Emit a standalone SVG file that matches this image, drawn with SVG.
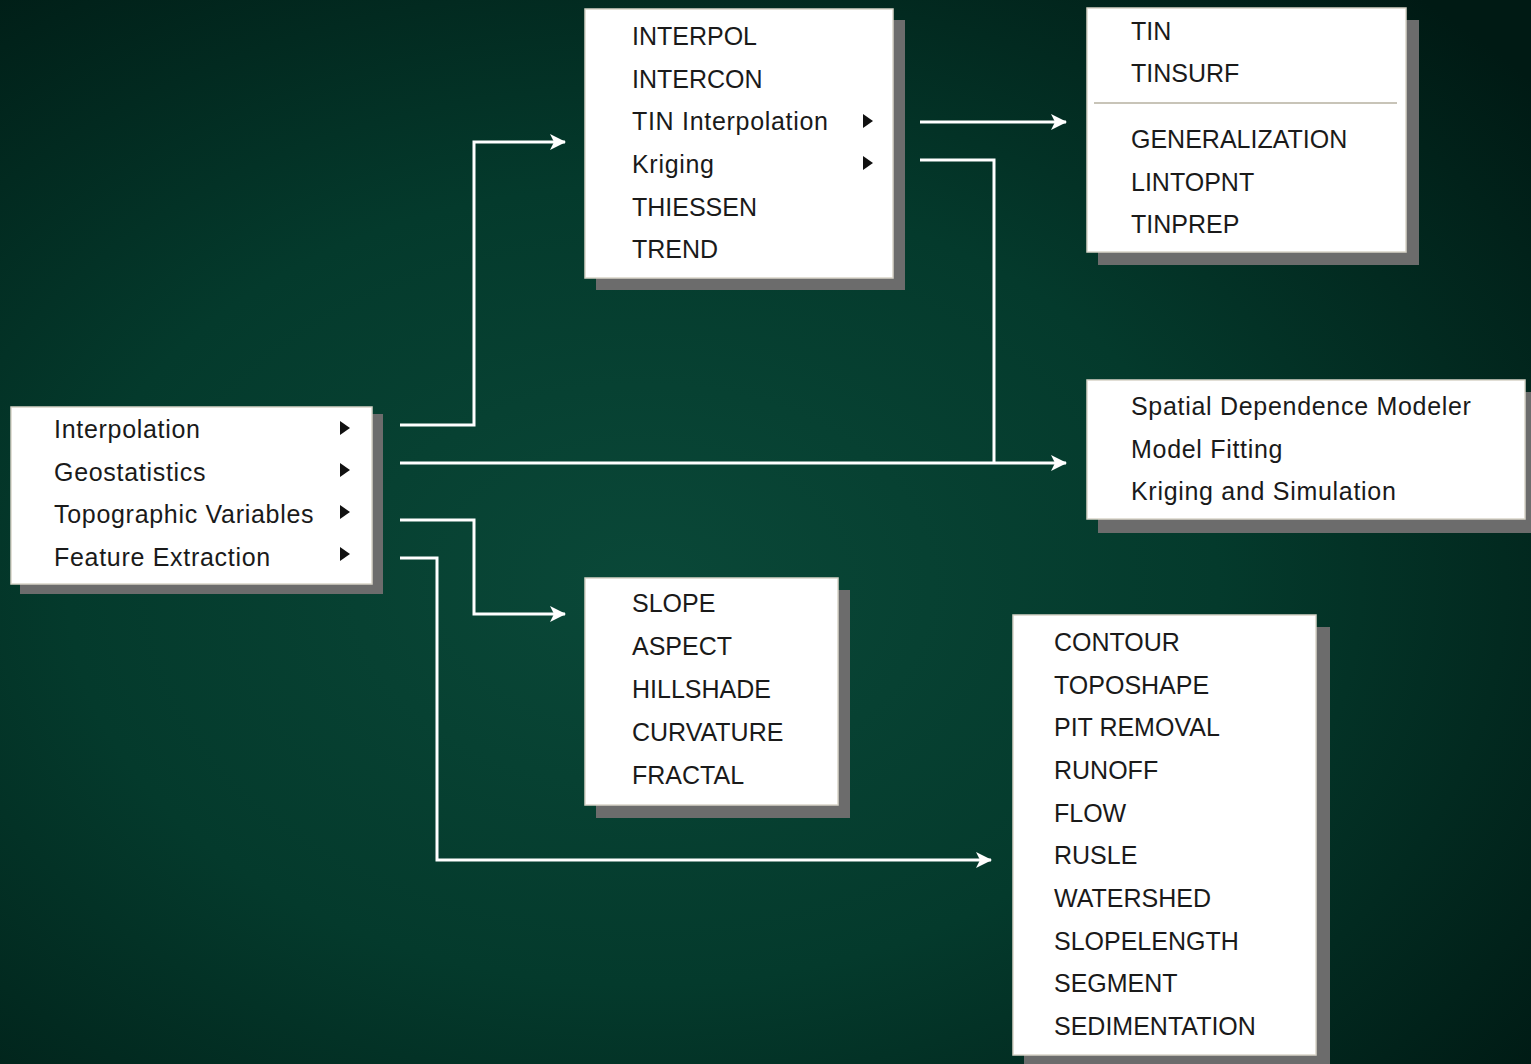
<svg xmlns="http://www.w3.org/2000/svg" width="1531" height="1064" viewBox="0 0 1531 1064">
<defs>
<radialGradient id="bg" cx="0.42" cy="0.55" r="0.75" gradientUnits="objectBoundingBox">
<stop offset="0" stop-color="#0a4838"/>
<stop offset="0.5" stop-color="#043a2c"/>
<stop offset="1" stop-color="#001a14"/>
</radialGradient>
<marker id="arr" viewBox="0 0 16 16" refX="15" refY="8" markerWidth="16" markerHeight="16" markerUnits="userSpaceOnUse" orient="auto">
<path d="M0,0 L16,8 L0,16 L4,8 Z" fill="#ffffff"/>
</marker>
<polygon id="tri" points="0,-7 10,0 0,7" fill="#111"/>
</defs>
<style>
.box{fill:#ffffff;stroke:#d8d4c8;stroke-width:1.5}
.sh{fill:#6c6c6c}
.t{font-family:"Liberation Sans",Arial,sans-serif;font-size:25px;fill:#1a1a1a}
.m{letter-spacing:0.7px}
.c{fill:none;stroke:#ffffff;stroke-width:3}
</style>
<rect width="1531" height="1064" fill="url(#bg)"/>

<g id="connectors">
<polyline class="c" points="400,425 474,425 474,142 565,142" marker-end="url(#arr)"/>
<polyline class="c" points="400,463 1066,463" marker-end="url(#arr)"/>
<polyline class="c" points="920,160 994,160 994,463"/>
<polyline class="c" points="920,122 1066,122" marker-end="url(#arr)"/>
<polyline class="c" points="400,520 474,520 474,614 565,614" marker-end="url(#arr)"/>
<polyline class="c" points="400,558 437,558 437,860 991,860" marker-end="url(#arr)"/>
</g>

<g id="main-menu">
<rect class="sh" x="20" y="414" width="363" height="180"/>
<rect class="box" x="11" y="407" width="361" height="177"/>
<text class="t m" x="54" y="438">Interpolation</text>
<text class="t m" x="54" y="480.5">Geostatistics</text>
<text class="t m" x="54" y="523">Topographic Variables</text>
<text class="t m" x="54" y="565.5">Feature Extraction</text>
<use href="#tri" x="340" y="428"/>
<use href="#tri" x="340" y="470"/>
<use href="#tri" x="340" y="512"/>
<use href="#tri" x="340" y="554"/>
</g>

<g id="interpolation-menu">
<rect class="sh" x="596" y="20" width="309" height="270"/>
<rect class="box" x="585" y="9" width="308" height="269"/>
<text class="t" x="632" y="45">INTERPOL</text>
<text class="t" x="632" y="88">INTERCON</text>
<text class="t m" x="632" y="130">TIN Interpolation</text>
<text class="t m" x="632" y="173">Kriging</text>
<text class="t" x="632" y="216">THIESSEN</text>
<text class="t" x="632" y="258">TREND</text>
<use href="#tri" x="863" y="121"/>
<use href="#tri" x="863" y="163"/>
</g>

<g id="tin-menu">
<rect class="sh" x="1098" y="20" width="321" height="245"/>
<rect class="box" x="1087" y="8" width="319" height="244"/>
<line x1="1094" y1="103" x2="1397" y2="103" stroke="#c8c4b8" stroke-width="2"/>
<text class="t" x="1131" y="40">TIN</text>
<text class="t" x="1131" y="82">TINSURF</text>
<text class="t" x="1131" y="148">GENERALIZATION</text>
<text class="t" x="1131" y="191">LINTOPNT</text>
<text class="t" x="1131" y="233">TINPREP</text>
</g>

<g id="geostatistics-menu">
<rect class="sh" x="1098" y="392" width="440" height="141"/>
<rect class="box" x="1087" y="380" width="438" height="139"/>
<text class="t m" x="1131" y="415">Spatial Dependence Modeler</text>
<text class="t m" x="1131" y="458">Model Fitting</text>
<text class="t m" x="1131" y="500">Kriging and Simulation</text>
</g>

<g id="topographic-menu">
<rect class="sh" x="596" y="590" width="254" height="228"/>
<rect class="box" x="585" y="578" width="253" height="227"/>
<text class="t" x="632" y="612">SLOPE</text>
<text class="t" x="632" y="655">ASPECT</text>
<text class="t" x="632" y="698">HILLSHADE</text>
<text class="t" x="632" y="741">CURVATURE</text>
<text class="t" x="632" y="784">FRACTAL</text>
</g>

<g id="feature-menu">
<rect class="sh" x="1024" y="627" width="306" height="445"/>
<rect class="box" x="1013" y="615" width="303" height="440"/>
<text class="t" x="1054" y="651">CONTOUR</text>
<text class="t" x="1054" y="694">TOPOSHAPE</text>
<text class="t" x="1054" y="736">PIT REMOVAL</text>
<text class="t" x="1054" y="779">RUNOFF</text>
<text class="t" x="1054" y="822">FLOW</text>
<text class="t" x="1054" y="864">RUSLE</text>
<text class="t" x="1054" y="907">WATERSHED</text>
<text class="t" x="1054" y="950">SLOPELENGTH</text>
<text class="t" x="1054" y="992">SEGMENT</text>
<text class="t" x="1054" y="1035">SEDIMENTATION</text>
</g>
</svg>
